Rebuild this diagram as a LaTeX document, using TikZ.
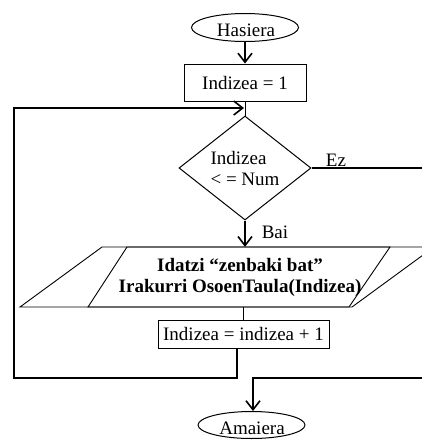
\documentclass[tikz,border=0pt]{standalone}
\usepackage{fontspec}
\setmainfont{Liberation Serif}
\usetikzlibrary{shapes.geometric,arrows.meta}
\begin{document}
\begin{tikzpicture}[x=1pt,y=-1pt,
  every node/.style={font=\fontsize{19}{21}\selectfont, inner sep=0pt},
  term/.style={draw, ellipse, line width=1pt, minimum width=107pt, minimum height=28pt},
  proc/.style={draw, rectangle, line width=1pt},
  thinline/.style={line width=0.9pt},
  conn/.style={line width=1.6pt},
  loopline/.style={line width=2.3pt},
  arr/.style={-{Straight Barb[length=9pt,width=14pt,line width=1.6pt]}},
]
\clip (0,0) rectangle (422,440);
% nodes
\node[term] (start) at (245,27.5) {};
\node (starttxt) at (246,30) {Hasiera};
\node[proc, minimum width=122pt, minimum height=37pt] (init) at (245,82.5) {Indizea = 1};
\coordinate (loopin) at (244,108);
\node[draw, diamond, aspect=1.27, minimum width=132pt, minimum height=104pt, line width=1pt, align=left] (cond) at (245,168) {Indizea\\< = Num};
\node[minimum width=200pt, minimum height=60pt, align=center, font=\fontsize{19}{21}\selectfont\bfseries] (io) at (240,277) {Idatzi “zenbaki bat”\\Irakurri OsoenTaula(Indizea)};
\draw[thinline] (20,307) -- (102,247) -- (434,247) -- (352,307) -- cycle;
\draw[thinline] (88,307) -- (127,247) -- (390,247) -- (349,307) -- cycle;
\node[proc, minimum width=171pt, minimum height=28pt] (inc) at (243.5,334) {Indizea = indizea + 1};
\node[term, minimum height=27pt] (end) at (251.5,425) {};
\node (endtxt) at (252,428.5) {Amaiera};
\node (ez) at (336,160) {Ez};
\node (bai) at (275,232) {Bai};
\coordinate (loopL) at (14,378);
\coordinate (ezR) at (430,168);
\coordinate (retR) at (430,378);
% connectors
\draw[conn, arr] (start) -- (init);
\draw[thinline] (init.south) -- (cond.north);
\draw[conn, arr] (cond.south) -- (cond.south |- io.north);
\draw[thinline] (inc.north |- io.south) -- (inc.north);
\draw[loopline, arr] ([xshift=-6.5pt]inc.south) |- (loopL) |- (loopin);
\draw[loopline] (cond.east) -- (ezR);
\draw[loopline, arr] (retR) -| ([xshift=1.5pt]end.north);
\end{tikzpicture}
\end{document}
